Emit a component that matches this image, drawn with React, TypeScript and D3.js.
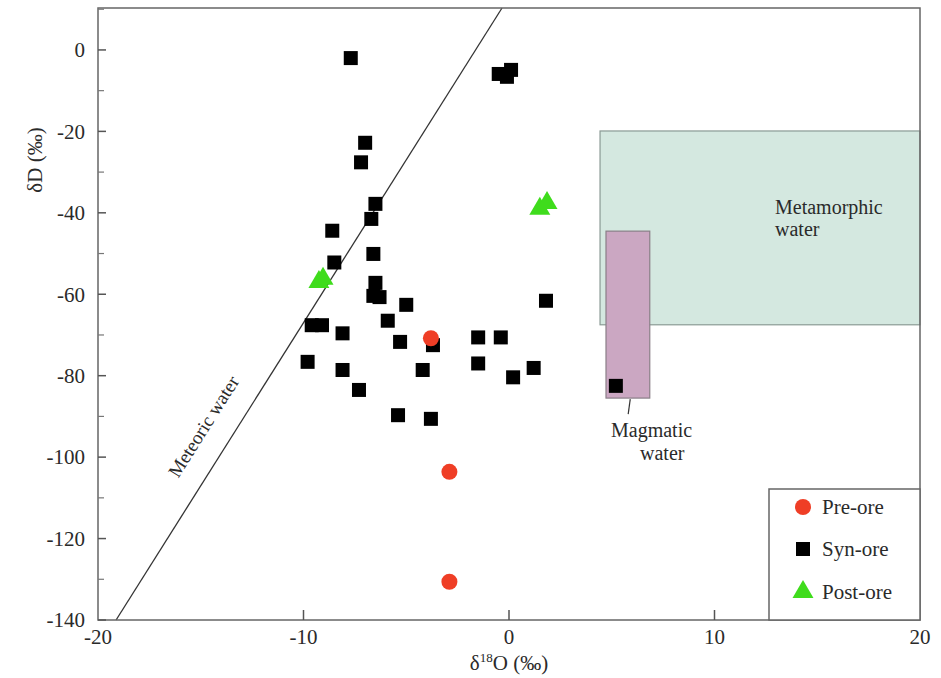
import React from "react";
import * as d3 from "d3";

// ---- data ----
const xTicks = [-20, -10, 0, 10, 20];
const yTicks = [0, -20, -40, -60, -80, -100, -120, -140];
const yMinorTicks = [10, -10, -30, -50, -70, -90, -110, -130];

const preOre: [number, number][] = [
  [-3.8, -70.8],
  [-2.9, -103.6],
  [-2.9, -130.6],
];

const synOre: [number, number][] = [
  [-7.7, -2.0],
  [-0.5, -5.9],
  [0.1, -4.9],
  [-0.1, -6.6],
  [-7.0, -22.8],
  [-7.2, -27.6],
  [-6.5, -37.8],
  [-6.7, -41.5],
  [-8.6, -44.4],
  [-6.6, -50.1],
  [-8.5, -52.2],
  [-6.5, -57.2],
  [-6.6, -60.4],
  [-6.3, -60.7],
  [-5.0, -62.6],
  [-9.6, -67.6],
  [-9.1, -67.6],
  [-5.9, -66.5],
  [-8.1, -69.6],
  [-5.3, -71.7],
  [-3.7, -72.5],
  [-1.5, -70.6],
  [-0.4, -70.6],
  [1.8, -61.6],
  [-9.8, -76.6],
  [-8.1, -78.6],
  [-4.2, -78.6],
  [-1.5, -77.0],
  [1.2, -78.1],
  [0.2, -80.4],
  [-7.3, -83.5],
  [-5.4, -89.7],
  [-3.8, -90.6],
  [5.2, -82.5],
];

const postOre: [number, number][] = [
  [-9.25, -57.0],
  [-9.05, -56.2],
  [1.5, -39.0],
  [1.85, -37.6],
];

// meteoric water line endpoints (δD = 8·δ18O + 13)
const meteoricLine: [number, number][] = [
  [-19.12, -140],
  [-0.34, 10.3],
];

// fields: [x0, x1, y0, y1]
const metamorphicField = [4.43, 20, -67.5, -19.9];
const magmaticField = [4.72, 6.85, -85.5, -44.5];

const legendItems = ["Pre-ore", "Syn-ore", "Post-ore"];

// ---- layout ----
const W = 941;
const H = 678;
const left = 98;
const right = 920;
const top = 8;
const bottom = 620;

const FONT = '"Liberation Serif", "Times New Roman", Times, "DejaVu Serif", serif';
const TEXT = "#2a2a2a";
const RED = "#ef3e26";
const GREEN = "#3fdc1c";

const T = (props: any) => (
  <text {...props} style={{ fontFamily: FONT }} fill={TEXT} />
);

export default function App() {
  const x = d3.scaleLinear().domain([-20, 20]).range([left, right]);
  const y = d3.scaleLinear().domain([-140, 10.3]).range([bottom, top]);
  const fmt = (v: number) => String(v);
  const sq = 14;
  const tri = d3.symbol().type(d3.symbolTriangle).size(190);

  const rect = (f: number[]) => ({
    x: x(f[0]),
    y: y(f[3]),
    w: x(f[1]) - x(f[0]),
    h: y(f[2]) - y(f[3]),
  });
  const meta = rect(metamorphicField);
  const mag = rect(magmaticField);
  const lineGen = d3
    .line<[number, number]>()
    .x((d) => x(d[0]))
    .y((d) => y(d[1]));

  const p0 = meteoricLine[0];
  const p1 = meteoricLine[1];
  const ang =
    (Math.atan2(y(p1[1]) - y(p0[1]), x(p1[0]) - x(p0[0])) * 180) / Math.PI;

  const lx = 769;
  const ly = 489;
  const legendY = [507, 549, 592];

  return (
    <svg
      width={W}
      height={H}
      style={{ position: "absolute", left: 0, top: 0, background: "#fff" }}
    >
      <rect x={0} y={0} width={W} height={H} fill="#fff" />
      {/* fields */}
      <rect
        x={meta.x}
        y={meta.y}
        width={meta.w}
        height={meta.h}
        fill="#d4e8e0"
        stroke="#8a9a94"
        strokeWidth={1.2}
      />
      <rect
        x={mag.x}
        y={mag.y}
        width={mag.w}
        height={mag.h}
        fill="#cba7c2"
        stroke="#8a7f88"
        strokeWidth={1.2}
      />
      <T x={775} y={214} fontSize={20}>
        Metamorphic
      </T>
      <T x={775} y={236} fontSize={20}>
        water
      </T>
      <line
        x1={x(5.9)}
        y1={y(-85.5) + 1}
        x2={x(5.8)}
        y2={y(-85.5) + 16}
        stroke="#333"
        strokeWidth={1.2}
      />
      <T x={611} y={437} fontSize={20}>
        Magmatic
      </T>
      <T x={640} y={460} fontSize={20}>
        water
      </T>

      {/* meteoric water line */}
      <path d={lineGen(meteoricLine) || ""} stroke="#333" strokeWidth={1.3} fill="none" />
      <T
        transform={`translate(209,430) rotate(${ang})`}
        textAnchor="middle"
        fontSize={19}
      >
        Meteoric water
      </T>

      {/* axes frame */}
      <rect
        x={left}
        y={top}
        width={right - left}
        height={bottom - top}
        fill="none"
        stroke="#666"
        strokeWidth={1.5}
      />
      {yTicks.map((t) => (
        <g key={"y" + t}>
          <line x1={left} x2={left + 8} y1={y(t)} y2={y(t)} stroke="#555" strokeWidth={1.5} />
          <T x={85} y={y(t)} dy="0.35em" textAnchor="end" fontSize={21}>
            {fmt(t)}
          </T>
        </g>
      ))}
      {yMinorTicks.map((t) => (
        <line key={"ym" + t} x1={left} x2={left + 6} y1={y(t)} y2={y(t)} stroke="#777" strokeWidth={1.2} />
      ))}
      {xTicks.map((t) => (
        <g key={"x" + t}>
          {t > -20 && t < 20 && (
            <line x1={x(t)} x2={x(t)} y1={bottom} y2={bottom - 10} stroke="#555" strokeWidth={1.5} />
          )}
          <T x={x(t)} y={644} textAnchor="middle" fontSize={21}>
            {fmt(t)}
          </T>
        </g>
      ))}
      <T x={(left + right) / 2} y={670} textAnchor="middle" fontSize={21}>
        δ<tspan fontSize={13} dy={-8}>18</tspan>
        <tspan dy={8}>O (‰)</tspan>
      </T>
      <T transform={`translate(42,160) rotate(-90)`} textAnchor="middle" fontSize={21}>
        δD (‰)
      </T>

      {/* points */}
      {synOre.map((d, i) => (
        <rect
          key={"s" + i}
          x={x(d[0]) - sq / 2}
          y={y(d[1]) - sq / 2}
          width={sq}
          height={sq}
          fill="#000"
        />
      ))}
      {preOre.map((d, i) => (
        <circle key={"p" + i} cx={x(d[0])} cy={y(d[1])} r={8} fill={RED} />
      ))}
      {postOre.map((d, i) => (
        <path
          key={"t" + i}
          d={tri() || ""}
          transform={`translate(${x(d[0])},${y(d[1])})`}
          fill={GREEN}
        />
      ))}

      {/* legend */}
      <rect
        x={lx}
        y={ly}
        width={right - lx}
        height={bottom - ly}
        fill="#fff"
        stroke="#666"
        strokeWidth={1.5}
      />
      <circle cx={803} cy={legendY[0]} r={8} fill={RED} />
      <rect x={803 - 7} y={legendY[1] - 7} width={14} height={14} fill="#000" />
      <path d={tri() || ""} transform={`translate(803,${legendY[2]})`} fill={GREEN} />
      {legendItems.map((t, i) => (
        <T key={t} x={822} y={legendY[i]} dy="0.35em" fontSize={21}>
          {t}
        </T>
      ))}
    </svg>
  );
}
